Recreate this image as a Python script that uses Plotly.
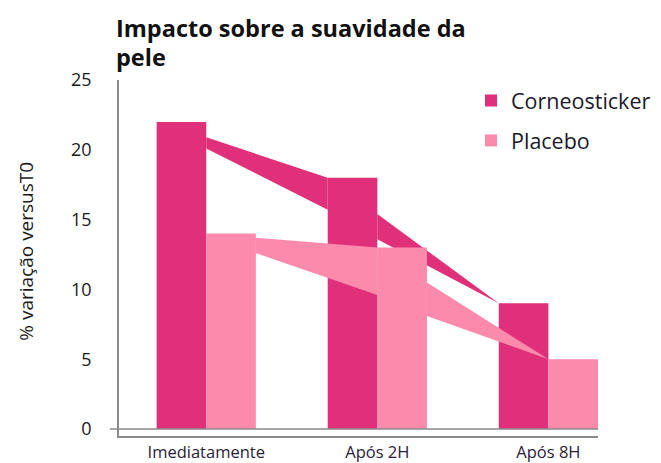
import plotly.graph_objects as go

categories = ["Imediatamente", "Após 2H", "Após 8H"]
corneo = [22, 18, 9]
placebo = [14, 13, 5]

# decorative ribbons between consecutive bars (values in % units)
corneo_rib_start_top = [20.9, 15.4]
corneo_rib_start_bot = [20.1, 13.6]
corneo_rib_end_top = [18.0, 9.0]
corneo_rib_end_bot = [15.7, 9.0]

placebo_rib_start_top = [13.7, 10.5]
placebo_rib_start_bot = [12.6, 8.1]
placebo_rib_end_top = [13.0, 5.0]
placebo_rib_end_bot = [9.6, 5.0]

y_ticks = [0, 5, 10, 15, 20, 25]

DARK = "#E0307A"
LIGHT = "#FC8AAD"
W = 0.29
xpos = list(range(len(categories)))

fig = go.Figure()

# layer 1: dark bars + dark ribbons
fig.add_trace(go.Bar(x=xpos, y=corneo, offset=-W, width=W, marker=dict(color=DARK, line=dict(width=0)),
                     name="Corneosticker", legendgroup="a", xaxis="x", yaxis="y"))
for i in range(len(categories) - 1):
    xs = [i, i + 1 - W, i + 1 - W, i, i]
    ys = [corneo_rib_start_top[i], corneo_rib_end_top[i], corneo_rib_end_bot[i], corneo_rib_start_bot[i], corneo_rib_start_top[i]]
    fig.add_trace(go.Scatter(x=xs, y=ys, fill="toself", fillcolor=DARK, mode="lines", line=dict(width=0, color=DARK),
                             showlegend=False, hoverinfo="skip", xaxis="x", yaxis="y"))

# layer 2: light bars + light ribbons (drawn on top)
fig.add_trace(go.Bar(x=xpos, y=placebo, offset=0, width=W, marker=dict(color=LIGHT, line=dict(width=0)),
                     name="Placebo", legendgroup="b", xaxis="x", yaxis="y2"))
for i in range(len(categories) - 1):
    xs = [i + W, i + 1, i + 1, i + W, i + W]
    ys = [placebo_rib_start_top[i], placebo_rib_end_top[i], placebo_rib_end_bot[i], placebo_rib_start_bot[i], placebo_rib_start_top[i]]
    fig.add_trace(go.Scatter(x=xs, y=ys, fill="toself", fillcolor=LIGHT, mode="lines", line=dict(width=0, color=LIGHT),
                             showlegend=False, hoverinfo="skip", xaxis="x", yaxis="y2"))

yr = [-0.5, 25]
FIG_W, FIG_H = 661, 463
fig.update_layout(
    width=FIG_W, height=FIG_H,
    margin=dict(l=111, r=71, t=72, b=35, autoexpand=False),
    paper_bgcolor="white", plot_bgcolor="white",
    font=dict(family="Open Sans", color="#1a1a1a"),
    showlegend=True,
    legend=dict(xref="paper", yref="paper", x=0.7349, y=1.0, xanchor="left", yanchor="top",
                font=dict(size=21.5, color="#1a1a2a"), tracegroupgap=9, traceorder="grouped",
                bgcolor="rgba(0,0,0,0)"),
    xaxis=dict(range=[-0.51, 2.29], tickmode="array", tickvals=xpos, ticktext=categories,
               showgrid=False, zeroline=False, showline=True, linecolor="#8a8a8a", linewidth=1.5,
               ticks="", tickfont=dict(size=16.5, color="#2a2238"), ticklabelstandoff=0, automargin=False),
    yaxis=dict(range=yr, tickvals=y_ticks, showgrid=False, zeroline=False, showline=True,
               linecolor="#8a8a8a", linewidth=1.5, ticks="", automargin=False,
               tickfont=dict(size=18, color="#1a1a1a"), ticklabelstandoff=22),
    yaxis2=dict(range=yr, overlaying="y", visible=False, showgrid=False, zeroline=False),
    shapes=[dict(type="line", xref="x domain", yref="y", x0=-0.019, x1=1, y0=0, y1=0,
                 line=dict(color="#8a8a8a", width=1.5))],
    annotations=[
        dict(text="<b>Impacto sobre a suavidade da</b>", xref="paper", yref="paper",
             x=-0.0104, y=1.146, xanchor="left", yanchor="middle", showarrow=False, align="left",
             font=dict(size=23.5, color="#111111", family="Open Sans")),
        dict(text="<b>pele</b>", xref="paper", yref="paper",
             x=-0.0104, y=1.064, xanchor="left", yanchor="middle", showarrow=False, align="left",
             font=dict(size=23.5, color="#111111", family="Open Sans")),
        dict(text="% variação versusT0", xref="paper", yref="paper", x=-0.196, y=0.518,
             textangle=-90, showarrow=False, xanchor="center", yanchor="middle",
             font=dict(size=19, color="#1a1a1a")),
    ],
)

fig.write_html("out.html")
